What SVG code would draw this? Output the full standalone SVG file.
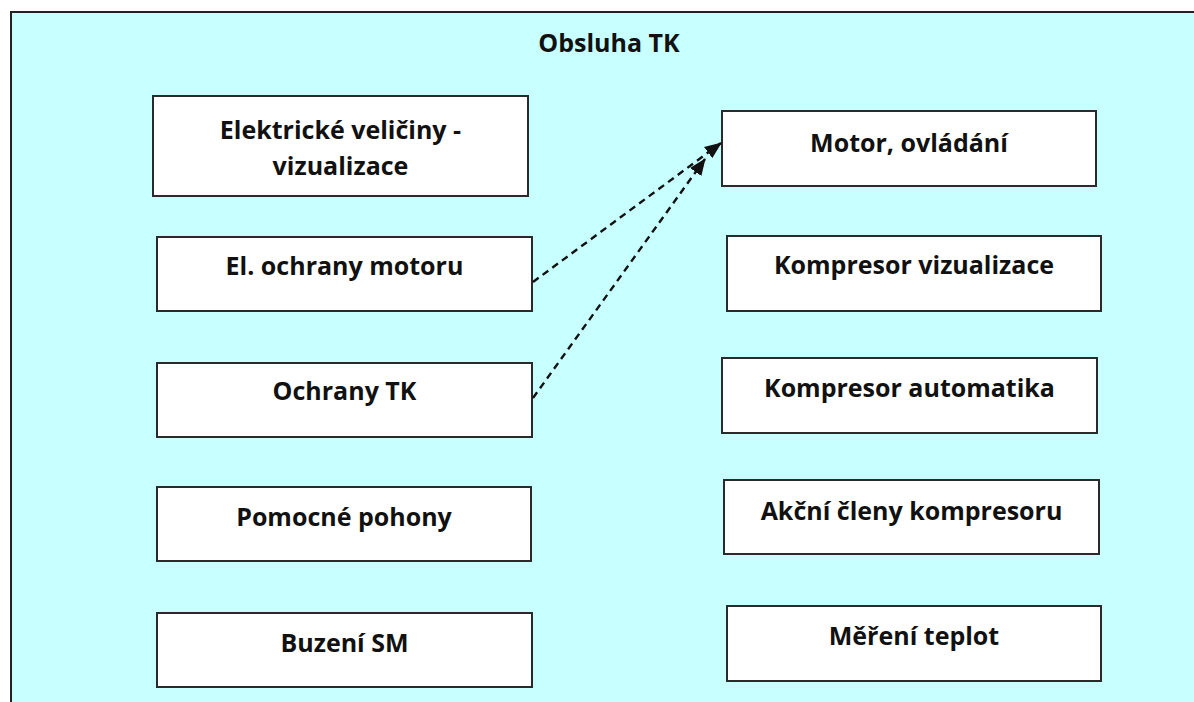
<svg xmlns="http://www.w3.org/2000/svg" width="1194" height="702" viewBox="0 0 1194 702">
<defs>
<style>
.bg{fill:#c8ffff;stroke:#222;stroke-width:2}
.box{fill:#fff;stroke:#2a2a2a;stroke-width:2}
.t{font-family:"Open Sans","Liberation Sans",sans-serif;font-weight:700;font-size:25px;fill:#111;text-anchor:middle}
.c{fill:none;stroke:#111;stroke-width:2.4;stroke-dasharray:7 5}
</style>
<marker id="ah" markerWidth="17" markerHeight="14" refX="16" refY="7" orient="auto" markerUnits="userSpaceOnUse">
<path d="M0,0 L17,7 L0,14 Z" fill="#111"/>
</marker>
</defs>
<rect x="0" y="0" width="1194" height="702" fill="#fff"/>
<rect class="bg" x="11" y="12" width="1200" height="700"/>
<text class="t" x="609" y="52">Obsluha TK</text>

<g id="n-elektricke"><rect class="box" x="153" y="96" width="375" height="100"/><text class="t" x="340.5" y="139">Elektrické veličiny -</text><text class="t" x="340.5" y="175">vizualizace</text></g>
<g id="n-el-ochrany"><rect class="box" x="157" y="237" width="375" height="74"/><text class="t" x="344.5" y="275">El. ochrany motoru</text></g>
<g id="n-ochrany-tk"><rect class="box" x="157" y="363" width="375" height="74"/><text class="t" x="344.5" y="400">Ochrany TK</text></g>
<g id="n-pomocne"><rect class="box" x="157" y="487" width="374" height="74"/><text class="t" x="344" y="526">Pomocné pohony</text></g>
<g id="n-buzeni"><rect class="box" x="157" y="613" width="375" height="74"/><text class="t" x="344.5" y="652">Buzení SM</text></g>

<g id="n-motor"><rect class="box" x="722" y="111" width="374" height="75"/><text class="t" x="909" y="152">Motor, ovládání</text></g>
<g id="n-komp-viz"><rect class="box" x="727" y="236" width="374" height="75"/><text class="t" x="914" y="274">Kompresor vizualizace</text></g>
<g id="n-komp-auto"><rect class="box" x="722" y="358" width="375" height="75"/><text class="t" x="909.5" y="397">Kompresor automatika</text></g>
<g id="n-akcni"><rect class="box" x="724" y="480" width="375" height="74"/><text class="t" x="911.5" y="520">Akční členy kompresoru</text></g>
<g id="n-mereni"><rect class="box" x="727" y="606" width="374" height="75"/><text class="t" x="914" y="645">Měření teplot</text></g>

<g id="connectors">
<line class="c" x1="533" y1="282" x2="721" y2="143" marker-end="url(#ah)"/>
<line class="c" x1="533" y1="398" x2="705" y2="159" marker-end="url(#ah)"/>
</g>
</svg>
